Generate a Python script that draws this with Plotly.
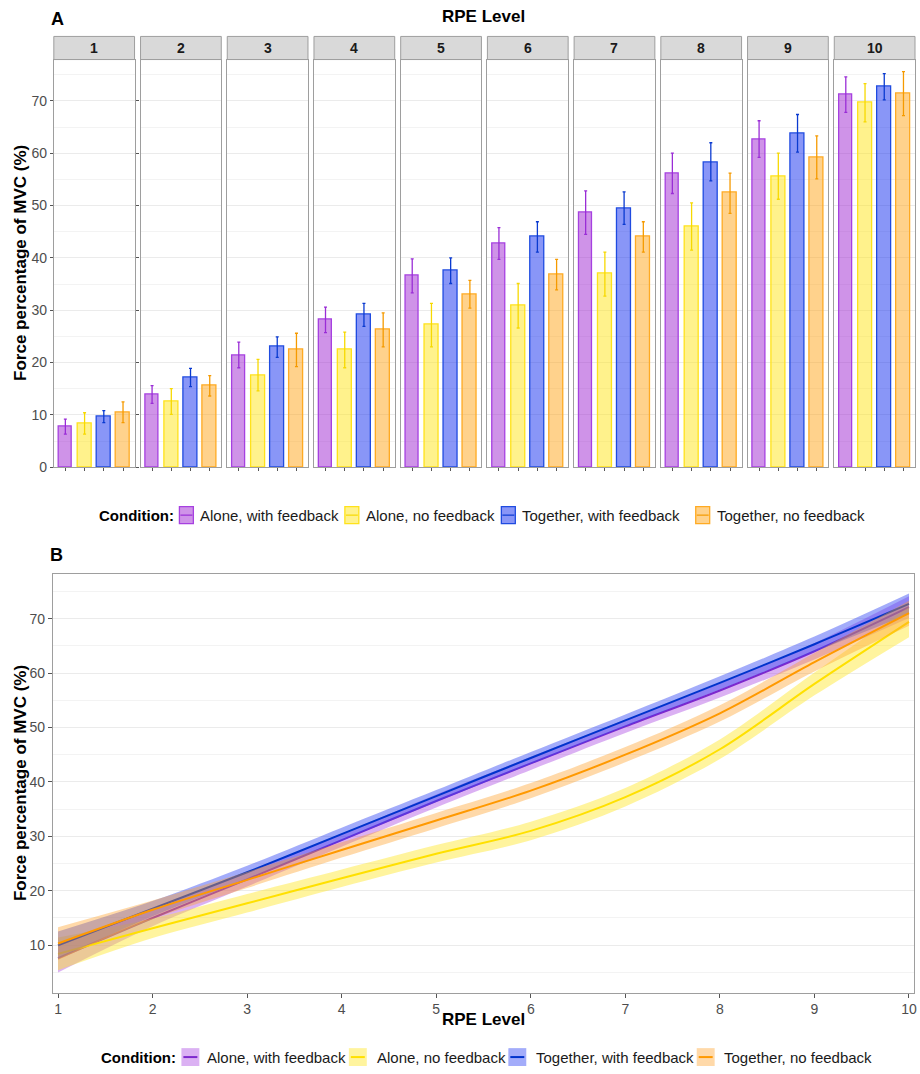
import plotly.graph_objects as go

W, H = 920, 1074

rpe_levels = [1, 2, 3, 4, 5, 6, 7, 8, 9, 10]
conditions = ["Alone, with feedback", "Alone, no feedback",
              "Together, with feedback", "Together, no feedback"]

# ---- Panel A: mean force (% MVC) and error-bar limits at each RPE level ----
alone_fb_mean = [7.7, 13.9, 21.4, 28.2, 36.6, 42.7, 48.7, 56.2, 62.7, 71.2]
alone_fb_lo = [6.3, 12.2, 19.0, 25.7, 33.3, 39.7, 44.5, 52.3, 59.2, 67.8]
alone_fb_hi = [9.2, 15.6, 23.9, 30.6, 39.8, 45.8, 52.8, 60.0, 66.2, 74.6]

alone_nofb_mean = [8.4, 12.6, 17.6, 22.5, 27.2, 30.9, 37.0, 46.0, 55.6, 69.6]
alone_nofb_lo = [6.3, 10.1, 14.6, 19.0, 23.0, 26.6, 32.7, 41.5, 51.2, 66.0]
alone_nofb_hi = [10.4, 15.0, 20.6, 25.8, 31.3, 35.1, 41.1, 50.5, 60.0, 73.3]

tog_fb_mean = [9.6, 17.2, 23.0, 29.1, 37.6, 44.0, 49.5, 58.3, 63.8, 72.7]
tog_fb_lo = [8.5, 15.4, 21.0, 26.9, 35.1, 41.1, 46.4, 54.7, 60.2, 70.2]
tog_fb_hi = [10.8, 18.9, 24.9, 31.3, 40.0, 46.9, 52.6, 62.0, 67.4, 75.2]

tog_nofb_mean = [10.5, 15.6, 22.4, 26.3, 33.0, 36.8, 44.0, 52.4, 59.1, 71.4]
tog_nofb_lo = [8.5, 13.6, 19.2, 23.0, 30.4, 33.9, 41.1, 48.5, 55.1, 67.2]
tog_nofb_hi = [12.5, 17.5, 25.6, 29.5, 35.7, 39.7, 46.9, 56.2, 63.3, 75.6]

# ---- Panel B: smoothed fit and confidence band per condition ----
fit_alone_fb = [7.6, 15.0, 22.1, 29.3, 36.5, 43.4, 50.2, 56.8, 64.0, 72.1]
fit_alone_fb_lo = [5.0, 13.5, 20.8, 28.1, 35.3, 42.2, 49.0, 55.5, 62.5, 70.1]
fit_alone_fb_hi = [10.2, 16.5, 23.4, 30.5, 37.7, 44.6, 51.4, 58.1, 65.5, 74.1]

fit_alone_nofb = [8.4, 13.1, 17.7, 22.3, 26.8, 31.0, 37.2, 46.0, 58.0, 69.4]
fit_alone_nofb_lo = [5.4, 11.3, 16.0, 20.7, 25.2, 29.3, 35.5, 44.2, 55.9, 66.6]
fit_alone_nofb_hi = [11.4, 14.9, 19.4, 23.9, 28.4, 32.7, 38.9, 47.8, 60.1, 72.2]

fit_tog_fb = [10.0, 16.7, 23.4, 30.4, 37.4, 44.4, 51.3, 58.2, 65.3, 72.7]
fit_tog_fb_lo = [7.5, 15.3, 22.2, 29.2, 36.3, 43.3, 50.2, 57.0, 63.9, 70.8]
fit_tog_fb_hi = [12.5, 18.1, 24.6, 31.6, 38.5, 45.5, 52.4, 59.4, 66.7, 74.6]

fit_tog_nofb = [10.3, 16.5, 22.0, 27.5, 32.9, 38.4, 45.0, 52.6, 62.0, 71.0]
fit_tog_nofb_lo = [7.3, 14.8, 20.5, 26.1, 31.5, 37.0, 43.6, 51.1, 60.3, 68.7]
fit_tog_nofb_hi = [13.3, 18.2, 23.5, 28.9, 34.3, 39.8, 46.4, 54.1, 63.7, 73.3]

bar_means = [alone_fb_mean, alone_nofb_mean, tog_fb_mean, tog_nofb_mean]
bar_los = [alone_fb_lo, alone_nofb_lo, tog_fb_lo, tog_nofb_lo]
bar_his = [alone_fb_hi, alone_nofb_hi, tog_fb_hi, tog_nofb_hi]
fits = [fit_alone_fb, fit_alone_nofb, fit_tog_fb, fit_tog_nofb]
fit_los = [fit_alone_fb_lo, fit_alone_nofb_lo, fit_tog_fb_lo, fit_tog_nofb_lo]
fit_his = [fit_alone_fb_hi, fit_alone_nofb_hi, fit_tog_fb_hi, fit_tog_nofb_hi]

# colours
bar_fill = ["rgba(160,40,210,0.5)", "rgba(255,230,25,0.5)",
            "rgba(20,45,240,0.5)", "rgba(255,165,25,0.5)"]
bar_edge = ["#A640E0", "#FFE21A", "#1F4BE0", "#FFAA22"]
err_col = ["#9A2DD6", "#F7D900", "#0A3AD0", "#F59A00"]
band_fill = ["rgba(165,60,225,0.40)", "rgba(255,230,40,0.45)",
             "rgba(50,70,245,0.45)", "rgba(255,160,40,0.40)"]
line_col = ["#7D28CD", "#FFE000", "#0033CC", "#FF9900"]

FONT = "Liberation Sans, Arial, Helvetica, sans-serif"
GRID = "#EBEBEB"
MINOR = "#F3F3F3"
BORDER = "#9E9E9E"
TICKTXT = "#4D4D4D"


def px(x):
    return x / W


def py(y):
    return 1 - y / H


fig = go.Figure()

# ---- Panel A bars (one facet per RPE level) ----
n_fac = len(rpe_levels)
for i, lvl in enumerate(rpe_levels):
    xa = "x" if i == 0 else f"x{i + 1}"
    for k in range(4):
        m = bar_means[k][i]
        fig.add_trace(go.Bar(
            x=[k + 1], y=[m], xaxis=xa, yaxis="y", width=0.72,
            name=conditions[k], showlegend=False,
            marker=dict(color=bar_fill[k], line=dict(color=bar_edge[k], width=1.3)),
            error_y=dict(type="data", symmetric=False,
                         array=[bar_his[k][i] - m], arrayminus=[m - bar_los[k][i]],
                         color=err_col[k], thickness=1.3, width=1.5),
        ))

# ---- Panel B smoothed curves with ribbons ----
for k in range(4):
    fig.add_trace(go.Scatter(
        x=rpe_levels, y=fit_los[k], xaxis="x11", yaxis="y2", mode="lines",
        line=dict(width=0, shape="spline", smoothing=0.9),
        showlegend=False, hoverinfo="skip"))
    fig.add_trace(go.Scatter(
        x=rpe_levels, y=fit_his[k], xaxis="x11", yaxis="y2", mode="lines",
        line=dict(width=0, shape="spline", smoothing=0.9),
        fill="tonexty", fillcolor=band_fill[k], showlegend=False, hoverinfo="skip"))
    fig.add_trace(go.Scatter(
        x=rpe_levels, y=fits[k], xaxis="x11", yaxis="y2", mode="lines",
        name=conditions[k],
        line=dict(color=line_col[k], width=2, shape="spline", smoothing=0.9),
        showlegend=False))

# ---- axes ----
axes = {}
fac_w, fac_step, fac_left = 81, 87, 54
for i in range(n_fac):
    key = "xaxis" if i == 0 else f"xaxis{i + 1}"
    left = fac_left + fac_step * i
    axes[key] = dict(domain=[px(left), px(left + fac_w)], anchor="y",
                     range=[0.4, 4.6], tickvals=[1, 2, 3, 4], showticklabels=False,
                     ticks="outside", ticklen=3, tickcolor="#555555", tickwidth=1,
                     showgrid=False, zeroline=False, showline=True,
                     linecolor=BORDER, linewidth=1, mirror=True, fixedrange=True)

axes["yaxis"] = dict(domain=[py(470.7), py(60)], anchor="x", range=[0, 77.9],
                     tickvals=[0, 10, 20, 30, 40, 50, 60, 70],
                     ticks="outside", ticklen=3, tickcolor="#555555",
                     tickfont=dict(size=14, color=TICKTXT, family=FONT),
                     showgrid=True, gridcolor=GRID, gridwidth=1, zeroline=False,
                     minor=dict(tickvals=[5, 15, 25, 35, 45, 55, 65, 75], showgrid=True,
                                gridcolor=MINOR, gridwidth=1, ticks=""),
                     showline=True, linecolor=BORDER, linewidth=1, mirror="all")

axes["xaxis11"] = dict(domain=[px(53), px(916.7)], anchor="y2", range=[0.945, 10.05],
                       tickvals=rpe_levels, ticks="outside", ticklen=4, tickcolor="#555555",
                       tickfont=dict(size=14, color=TICKTXT, family=FONT),
                       showgrid=False, zeroline=False, showline=True,
                       linecolor=BORDER, linewidth=1, mirror=True)
axes["yaxis2"] = dict(domain=[py(1000), py(578.3)], anchor="x11", range=[1.3, 78.2],
                      tickvals=[10, 20, 30, 40, 50, 60, 70],
                      ticks="outside", ticklen=4, tickcolor="#555555",
                      tickfont=dict(size=14, color=TICKTXT, family=FONT),
                      showgrid=True, gridcolor=GRID, gridwidth=1, zeroline=False,
                      minor=dict(tickvals=[5, 15, 25, 35, 45, 55, 65, 75], showgrid=True,
                                 gridcolor=MINOR, gridwidth=1, ticks=""),
                      showline=True, linecolor=BORDER, linewidth=1, mirror=True)

shapes = []
annotations = []

# facet strips
for i, lvl in enumerate(rpe_levels):
    dref = "x domain" if i == 0 else f"x{i + 1} domain"
    shapes.append(dict(type="rect", xref=dref, yref="paper", x0=0, x1=1,
                       y0=py(60), y1=py(36.7), fillcolor="#D9D9D9",
                       line=dict(color=BORDER, width=1), layer="above"))
    annotations.append(dict(text=f"<b>{lvl}</b>", xref=dref, yref="paper", x=0.5,
                            y=py(48.5), showarrow=False, xanchor="center",
                            yanchor="middle", font=dict(size=14, color="#1A1A1A")))


def label(text, x, y, size, **kw):
    d = dict(text=text, xref="paper", yref="paper", x=px(x), y=py(y), showarrow=False,
             xanchor="center", yanchor="middle",
             font=dict(size=size, color=kw.pop("color", "#000000"), family=FONT))
    d.update(kw)
    annotations.append(d)


# titles and panel letters
label("<b>A</b>", 57.5, 19, 18)
label("<b>B</b>", 57, 559, 18)
label("<b>RPE Level</b>", 485.5, 17, 17)
label("<b>RPE Level</b>", 485, 1027, 17)
label("<b>Force percentage of MVC (%)</b>", 20, 265, 17, textangle=-90)
label("<b>Force percentage of MVC (%)</b>", 20, 789, 17, textangle=-90)

# legend for panel A (bar keys)
ya = 519
label("<b>Condition:</b>", 97, ya, 15, xanchor="left")
keys_a = [180, 346, 503, 698]
texts_a = [199, 365, 522, 717]
for k in range(4):
    x0 = keys_a[k]
    shapes.append(dict(type="rect", xref="paper", yref="paper",
                       x0=px(x0), x1=px(x0 + 14), y0=py(ya + 8.5), y1=py(ya - 8.5),
                       fillcolor=bar_fill[k], line=dict(color=bar_edge[k], width=1.3)))
    shapes.append(dict(type="line", xref="paper", yref="paper",
                       x0=px(x0 + 1), x1=px(x0 + 13), y0=py(ya), y1=py(ya),
                       line=dict(color=err_col[k], width=1.2)))
    label(conditions[k], texts_a[k], ya, 15, xanchor="left", color="#1A1A1A")

# legend for panel B (ribbon + line keys)
yb = 1065
label("<b>Condition:</b>", 99, yb, 15, xanchor="left")
keys_b = [182, 350, 510, 699]
texts_b = [206, 376, 536, 724]
for k in range(4):
    x0 = keys_b[k]
    shapes.append(dict(type="rect", xref="paper", yref="paper",
                       x0=px(x0), x1=px(x0 + 18), y0=py(yb + 9), y1=py(yb - 9),
                       fillcolor=band_fill[k], line=dict(width=0)))
    shapes.append(dict(type="line", xref="paper", yref="paper",
                       x0=px(x0 + 2), x1=px(x0 + 16), y0=py(yb), y1=py(yb),
                       line=dict(color=line_col[k], width=2)))
    label(conditions[k], texts_b[k], yb, 15, xanchor="left", color="#1A1A1A")

fig.update_layout(
    width=W, height=H, margin=dict(l=0, r=0, t=0, b=0),
    paper_bgcolor="white", plot_bgcolor="white",
    font=dict(family=FONT, size=14, color="#1A1A1A"),
    showlegend=False, bargap=0, shapes=shapes, annotations=annotations,
    **axes,
)

fig.write_html("out.html")
